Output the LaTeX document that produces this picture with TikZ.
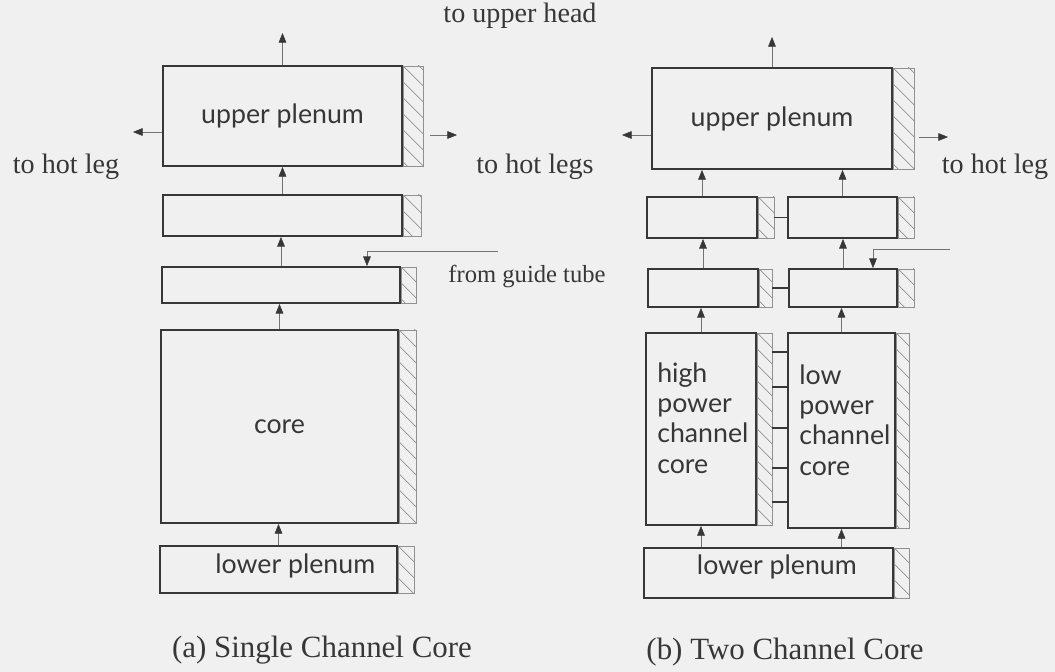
\documentclass[tikz,border=0pt]{standalone}
\usepackage{fontspec}
\setmainfont{Liberation Serif}
\newfontfamily\lblfont{Lato}
\usetikzlibrary{arrows.meta, positioning}
\definecolor{paper}{RGB}{240,240,240}
\definecolor{ink}{RGB}{55,55,55}
\tikzset{
  box/.style={draw=ink, line width=1.3pt, inner sep=0pt, text=ink, font=\lblfont\fontsize{19}{21}\selectfont},
  hatch/.style={draw=ink!55, line width=0.4pt, inner sep=0pt, path picture={
      \foreach \k in {0,...,20}
        \draw[ink!65, line width=0.4pt] ([yshift=0.8cm-\k*0.4cm]path picture bounding box.north west) -- ++(1.5cm,-1.5cm);}},
  flow/.style={draw=ink!70, line width=0.4pt, -{Triangle[length=2.4mm,width=1.9mm,color=ink]}},
  link/.style={draw=ink, line width=1.3pt},
  guide/.style={draw=ink!70, line width=0.4pt},
  txt/.style={text=ink, font=\fontsize{20}{24}\selectfont},
  captxt/.style={text=ink, font=\fontsize{22}{26}\selectfont},
  coretxt/.style={text=ink, inner sep=0pt, anchor=west, align=left, font=\lblfont\fontsize{19}{21.5}\selectfont}
}
\begin{document}
\begin{tikzpicture}[x=0.025cm, y=-0.025cm]
			% page
			\fill[paper] (0,0) rectangle (1055,672);
			\useasboundingbox (0,0) rectangle (1055,672);
			% (a) single channel core
			\node[box, minimum width=5.975cm, minimum height=2.5cm] (upA) at (282.5,116) {upper plenum};
			\node[hatch, minimum width=0.5cm, minimum height=2.5cm, right=0pt of upA] (upAh) {};
			\node[box, minimum width=5.975cm, minimum height=1.025cm] (m2A) at (282.5,215.5) {};
			\node[hatch, minimum width=0.45cm, minimum height=1.025cm, right=0pt of m2A] (m2Ah) {};
			\node[box, minimum width=5.95cm, minimum height=0.9cm] (m1A) at (281,285) {};
			\node[hatch, minimum width=0.375cm, minimum height=0.9cm, right=0pt of m1A] (m1Ah) {};
			\node[box, minimum width=5.925cm, minimum height=4.825cm] (coreA) at (279.5,426.5) {core};
			\node[hatch, minimum width=0.425cm, minimum height=4.825cm, right=0pt of coreA] (coreAh) {};
			\node[box, minimum width=5.925cm, minimum height=1.175cm, label={[text=ink, font=\lblfont\fontsize{19}{21}\selectfont, xshift=0.42cm, yshift=0.1cm]center:lower plenum}] (lpA) at (278.5,569.5) {};
			\node[hatch, minimum width=0.4cm, minimum height=1.175cm, right=0pt of lpA] (lpAh) {};
			\coordinate (uhA) at (280,33);
			\coordinate (hlA) at (133,132);
			\coordinate (hrA) at (457,135);
			\coordinate (gtA) at (498,251);
			\coordinate (gtAd) at (367,251);
			\draw[flow] (upA.north) -- (upA.north |- uhA);
			\draw[flow] (upA.west |- hlA) -- (hlA);
			\draw[flow] ([xshift=0.15cm]upAh.east |- hrA) -- (hrA);
			\draw[flow] (m2A.north) -- (m2A.north |- upA.south);
			\draw[flow] (m1A.north) -- (m1A.north |- m2A.south);
			\draw[flow] (coreA.north) -- (coreA.north |- m1A.south);
			\draw[flow] (lpA.north) -- (lpA.north |- coreA.south);
			\draw[guide] (gtA) -- (gtAd);
			\draw[flow] (gtAd) -- (gtAd |- m1A.north);
			% (b) two channel core
			\node[box, minimum width=6cm, minimum height=2.525cm] (upB) at (772,118.5) {upper plenum};
			\node[hatch, minimum width=0.525cm, minimum height=2.525cm, right=0pt of upB] (upBh) {};
			\node[box, minimum width=2.75cm, minimum height=1.025cm] (hm2B) at (702,217.5) {};
			\node[hatch, minimum width=0.4cm, minimum height=1.025cm, right=0pt of hm2B] (hm2Bh) {};
			\node[box, minimum width=2.725cm, minimum height=1.025cm] (lm2B) at (842.5,217.5) {};
			\node[hatch, minimum width=0.4cm, minimum height=1.025cm, right=0pt of lm2B] (lm2Bh) {};
			\node[box, minimum width=2.75cm, minimum height=0.95cm] (hm1B) at (703,288) {};
			\node[hatch, minimum width=0.325cm, minimum height=0.95cm, right=0pt of hm1B] (hm1Bh) {};
			\node[box, minimum width=2.7cm, minimum height=0.95cm] (lm1B) at (843,288) {};
			\node[hatch, minimum width=0.4cm, minimum height=0.95cm, right=0pt of lm1B] (lm1Bh) {};
			\node[box, minimum width=2.75cm, minimum height=4.8cm] (hcB) at (701,429) {};
			\node[hatch, minimum width=0.375cm, minimum height=4.8cm, right=0pt of hcB] (hcBh) {};
			\node[box, minimum width=2.675cm, minimum height=4.875cm] (lcB) at (841.5,430.5) {};
			\node[hatch, minimum width=0.325cm, minimum height=4.875cm, right=0pt of lcB] (lcBh) {};
			\node[box, minimum width=6.225cm, minimum height=1.25cm, label={[text=ink, font=\lblfont\fontsize{19}{21}\selectfont, xshift=0.21cm, yshift=0.15cm]center:lower plenum}] (lpB) at (768.5,573) {};
			\node[hatch, minimum width=0.375cm, minimum height=1.25cm, right=0pt of lpB] (lpBh) {};
			\node[coretxt] (hcT) at (657,418) {high\\power\\channel\\core};
			\node[coretxt] (lcT) at (799,420) {low\\power\\channel\\core};
			\draw[link] (hm2Bh.east) -- (lm2B.west);
			\draw[link] (hm1Bh.east) -- (lm1B.west);
			\foreach \y in {352,387,428,468,502}
				\draw[link] (hcBh.east |- 0,\y) -- (lcB.west |- 0,\y);
			\coordinate (uhB) at (769,37);
			\coordinate (hlB) at (622,135);
			\coordinate (hrB) at (948,137);
			\coordinate (gtB) at (950,249);
			\coordinate (gtBd) at (873,249);
			\draw[flow] (upB.north) -- (upB.north |- uhB);
			\draw[flow] (upB.west |- hlB) -- (hlB);
			\draw[flow] ([xshift=0.12cm]upBh.east |- hrB) -- (hrB);
			\draw[flow] (hm2B.north) -- (hm2B.north |- upB.south);
			\draw[flow] (lm2B.north) -- (lm2B.north |- upB.south);
			\draw[flow] (hm1B.north) -- (hm1B.north |- hm2B.south);
			\draw[flow] (lm1B.north) -- (lm1B.north |- lm2B.south);
			\draw[flow] (hcB.north) -- (hcB.north |- hm1B.south);
			\draw[flow] (lcB.north) -- (lcB.north |- lm1B.south);
			\draw[flow] (hcB.south |- lpB.north) -- (hcB.south);
			\draw[flow] (lcB.south |- lpB.north) -- (lcB.south);
			\draw[guide] (gtB) -- (gtBd);
			\draw[flow] (gtBd) -- (gtBd |- lm1B.north);
			% labels
			\node[txt] (headT) at (520,16) {to upper head};
			\node[txt] (hotA) at (66,167) {to hot leg};
			\node[txt] (hotM) at (535,167) {to hot legs};
			\node[txt] (hotB) at (995,167) {to hot leg};
			\node[txt, font=\fontsize{17.5}{20}\selectfont] (guideT) at (527,276) {from guide tube};
			\node[captxt] (capA) at (322,650) {(a) Single Channel Core};
			\node[captxt] (capB) at (785,652) {(b) Two Channel Core};
\end{tikzpicture}
\end{document}
